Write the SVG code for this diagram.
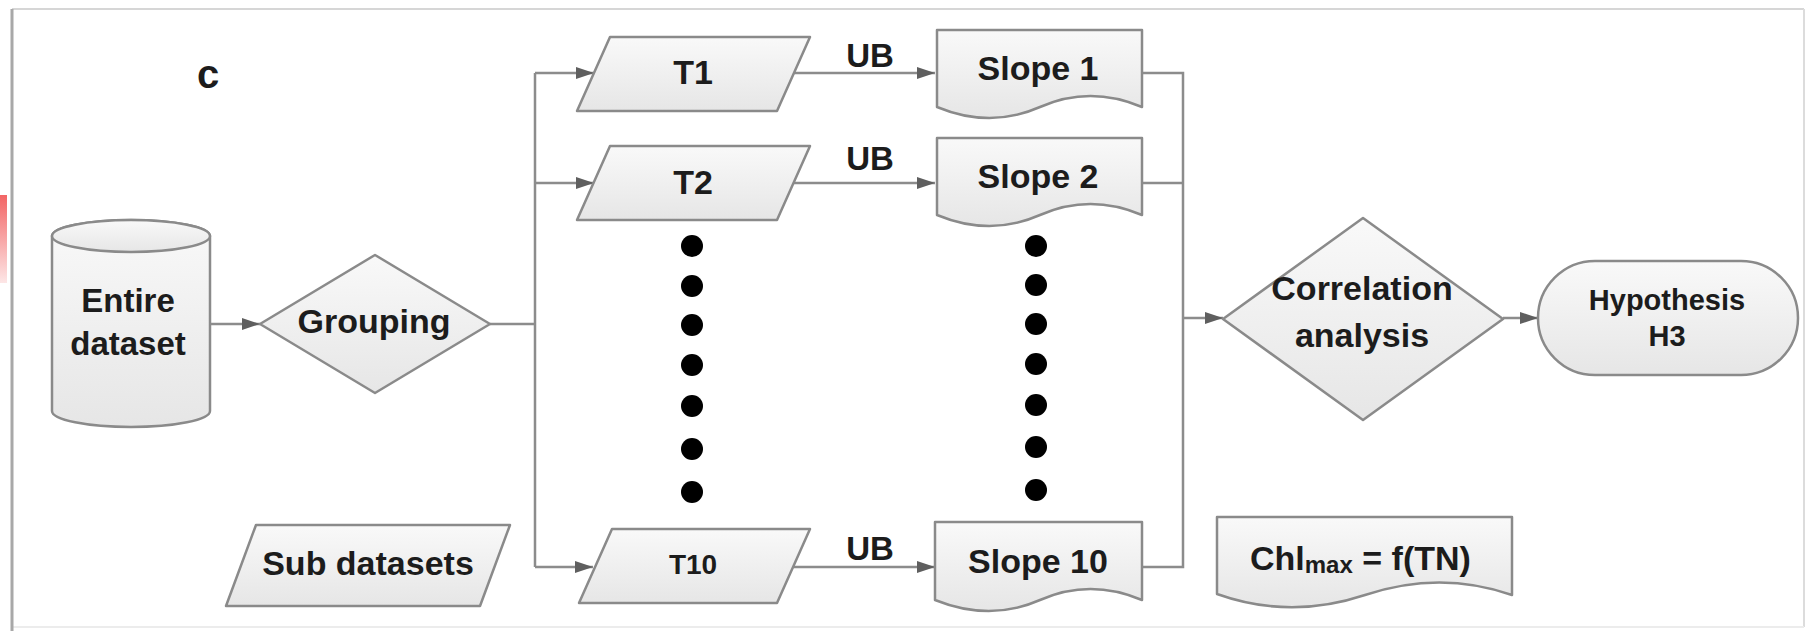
<svg xmlns="http://www.w3.org/2000/svg" width="1818" height="631" viewBox="0 0 1818 631">
<defs>
<linearGradient id="fillG" x1="0" y1="0" x2="0" y2="1">
<stop offset="0" stop-color="#f9f9f9"/>
<stop offset="1" stop-color="#e6e6e6"/>
</linearGradient>
<linearGradient id="redG" x1="0" y1="0" x2="0" y2="1">
<stop offset="0" stop-color="#f26565"/>
<stop offset="1" stop-color="#fde6e6"/>
</linearGradient>
<marker id="ah" viewBox="0 0 18 12" refX="18" refY="6" markerWidth="18" markerHeight="12" markerUnits="userSpaceOnUse" orient="auto">
<path d="M0,0 L18,6 L0,12 z" fill="#5f5f5f"/>
</marker>
<style>
.shape{fill:url(#fillG);stroke:#8a8a8a;stroke-width:2.5;stroke-linejoin:round}
.conn{fill:none;stroke:#8c8c8c;stroke-width:2.5}
.arr{marker-end:url(#ah)}
.t{font-family:"Liberation Sans",Arial,sans-serif;font-weight:bold;fill:#1c1c1c;text-anchor:middle}
.dot{fill:#000}
</style>
</defs>
<rect width="1818" height="631" fill="#fff"/>
<g id="frame">
<rect x="0" y="195" width="7" height="88" fill="url(#redG)"/>
<line x1="12" y1="9" x2="1804" y2="9" stroke="#d6d6d6" stroke-width="2"/>
<line x1="1804" y1="9" x2="1804" y2="627" stroke="#dcdcdc" stroke-width="2"/>
<line x1="12" y1="627" x2="1804" y2="627" stroke="#ececec" stroke-width="2"/>
<line x1="12" y1="9" x2="12" y2="631" stroke="#a8a8a8" stroke-width="3"/>
</g>
<text class="t" x="208" y="88" font-size="40">c</text>
<g id="connectors">
<path class="conn arr" d="M210,324 H260"/>
<path class="conn" d="M490,324 H535"/>
<path class="conn" d="M535,73 V567"/>
<path class="conn arr" d="M535,73 H594"/>
<path class="conn arr" d="M535,183 H594"/>
<path class="conn arr" d="M535,567 H593"/>
<path class="conn arr" d="M794,73 H935"/>
<path class="conn arr" d="M793,183 H935"/>
<path class="conn arr" d="M793,567 H935"/>
<path class="conn" d="M1142,73 H1183 V567 H1142"/>
<path class="conn" d="M1142,183 H1183"/>
<path class="conn arr" d="M1183,318 H1223"/>
<path class="conn arr" d="M1503,318 H1538"/>
<text class="t" x="870" y="67" font-size="33">UB</text>
<text class="t" x="870" y="170" font-size="33">UB</text>
<text class="t" x="870" y="560" font-size="33">UB</text>
</g>
<g id="entire-dataset">
<path class="shape" d="M52,236 V411 A79,16 0 0 0 210,411 V236 A79,16 0 0 0 52,236 Z"/>
<ellipse class="shape" cx="131" cy="236" rx="79" ry="16"/>
<text class="t" x="128" y="312" font-size="33">Entire</text>
<text class="t" x="128" y="355" font-size="33">dataset</text>
</g>
<g id="grouping">
<polygon class="shape" points="260,324 375,255 490,324 375,393"/>
<text class="t" x="374" y="333" font-size="34">Grouping</text>
</g>
<g id="sub-datasets">
<polygon class="shape" points="256,525 510,525 480,606 226,606"/>
<text class="t" x="368" y="575" font-size="34">Sub datasets</text>
</g>
<g id="t1">
<polygon class="shape" points="610,37 810,37 777,111 577,111"/>
<text class="t" x="693" y="84" font-size="34">T1</text>
</g>
<g id="t2">
<polygon class="shape" points="610,146 810,146 777,220 577,220"/>
<text class="t" x="693" y="194" font-size="34">T2</text>
</g>
<g id="t10">
<polygon class="shape" points="612,529 810,529 777,603 579,603"/>
<text class="t" x="693" y="574" font-size="28">T10</text>
</g>
<g id="dots">
<circle class="dot" cx="692" cy="246" r="11"/>
<circle class="dot" cx="692" cy="286" r="11"/>
<circle class="dot" cx="692" cy="325" r="11"/>
<circle class="dot" cx="692" cy="365" r="11"/>
<circle class="dot" cx="692" cy="406" r="11"/>
<circle class="dot" cx="692" cy="449" r="11"/>
<circle class="dot" cx="692" cy="492" r="11"/>
<circle class="dot" cx="1036" cy="246" r="11"/>
<circle class="dot" cx="1036" cy="285" r="11"/>
<circle class="dot" cx="1036" cy="324" r="11"/>
<circle class="dot" cx="1036" cy="364" r="11"/>
<circle class="dot" cx="1036" cy="405" r="11"/>
<circle class="dot" cx="1036" cy="447" r="11"/>
<circle class="dot" cx="1036" cy="490" r="11"/>
</g>
<g id="slope1">
<path class="shape" d="M937,30 H1142 V107 Q1090,85 1040,107 Q990,129 937,107 Z"/>
<text class="t" x="1038" y="80" font-size="34">Slope 1</text>
</g>
<g id="slope2">
<path class="shape" d="M937,138 H1142 V215 Q1090,193 1040,215 Q990,237 937,215 Z"/>
<text class="t" x="1038" y="188" font-size="34">Slope 2</text>
</g>
<g id="slope10">
<path class="shape" d="M935,522 H1142 V600 Q1090,578 1040,600 Q990,622 935,600 Z"/>
<text class="t" x="1038" y="573" font-size="34">Slope 10</text>
</g>
<g id="correlation">
<polygon class="shape" points="1223,319 1363,218 1503,319 1363,420"/>
<text class="t" x="1362" y="300" font-size="34">Correlation</text>
<text class="t" x="1362" y="347" font-size="34">analysis</text>
</g>
<g id="hypothesis">
<rect class="shape" x="1538" y="261" width="260" height="114" rx="57" ry="57"/>
<text class="t" x="1667" y="310" font-size="29">Hypothesis</text>
<text class="t" x="1667" y="346" font-size="29">H3</text>
</g>
<g id="chl">
<path class="shape" d="M1217,517 H1512 V595 Q1440,570 1365,595 Q1290,620 1217,594 Z"/>
<text class="t" x="1250" y="570" font-size="34" style="text-anchor:start">Chl<tspan font-size="24" dy="3">max</tspan><tspan dy="-3"> = f(TN)</tspan></text>
</g>
</svg>
